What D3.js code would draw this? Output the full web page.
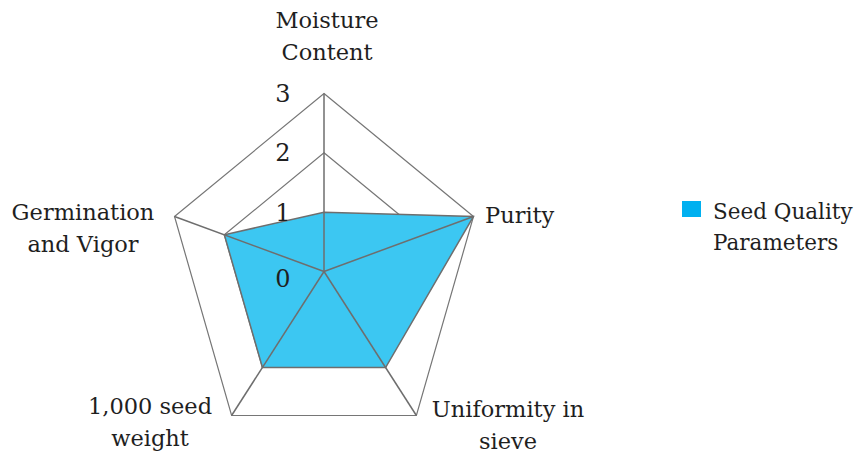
<!DOCTYPE html>
<html><head><meta charset="utf-8">
<script src="https://cdn.jsdelivr.net/npm/d3@7"></script>
<style>body{margin:0;background:#fff}svg{display:block}text{font-family:"DejaVu Serif",serif;fill:#1f1f1f}</style>
</head><body><svg id="c" width="857" height="454"></svg>
<script>
const categories = ["Moisture Content", "Purity", "Uniformity in sieve", "1,000 seed weight", "Germination and Vigor"];
const values = [1, 3, 2, 2, 2];
const tickValues = [0, 1, 2, 3];
const seriesName = "Seed Quality Parameters";

const svg = d3.select("#c");
const cx = 324, cy = 271.5, R = 178, sx = 0.883;
const r = d3.scaleLinear().domain([0, 3]).range([0, R]);
const ang = d3.scaleLinear().domain([0, categories.length]).range([0, 2 * Math.PI]);
const pt = (i, v) => [cx + sx * r(v) * Math.sin(ang(i)), cy - r(v) * Math.cos(ang(i))];
const lineGen = d3.line().curve(d3.curveLinearClosed);

// rings
svg.append("g").selectAll("path").data(tickValues.filter(t => t > 0)).join("path")
  .attr("d", t => lineGen(categories.map((c, i) => pt(i, t))))
  .attr("fill", "none").attr("stroke", "#767676").attr("stroke-width", 1.2);

// series fill
svg.append("path").attr("d", lineGen(values.map((v, i) => pt(i, v))))
  .attr("fill", "#3cc7f2").attr("stroke", "#6e6e6e").attr("stroke-width", 1.5);

// spokes
svg.append("g").selectAll("line").data(categories).join("line")
  .attr("x1", cx).attr("y1", cy)
  .attr("x2", (d, i) => pt(i, 3)[0]).attr("y2", (d, i) => pt(i, 3)[1])
  .attr("stroke", "#6e6e6e").attr("stroke-width", 1.5);

// tick labels
svg.append("g").selectAll("text").data(tickValues).join("text")
  .attr("x", cx - 41).attr("y", t => cy - r(t) + (t === 0 ? 7 : 0))
  .attr("dy", "0.35em").attr("text-anchor", "middle").attr("font-size", 24)
  .text(t => t);

// category labels
const labelLines = [["Moisture", "Content"], ["Purity"], ["Uniformity in", "sieve"], ["1,000 seed", "weight"], ["Germination", "and Vigor"]];
const labelPos = [
  {x: 327, y: 28, a: "middle"},
  {x: 485, y: 223, a: "start"},
  {x: 508, y: 417, a: "middle"},
  {x: 150, y: 414, a: "middle"},
  {x: 83, y: 220, a: "middle"}
];
const lg = svg.append("g");
categories.forEach((c, i) => {
  const t = lg.append("text").attr("x", labelPos[i].x).attr("y", labelPos[i].y)
    .attr("text-anchor", labelPos[i].a).attr("font-size", 22.5);
  labelLines[i].forEach((l, j) => t.append("tspan").attr("x", labelPos[i].x).attr("dy", j ? 32 : 0).text(l));
});

// legend
const leg = svg.append("g");
leg.append("rect").attr("x", 682).attr("y", 201).attr("width", 19).attr("height", 16).attr("fill", "#00b0f0");
const lt = leg.append("text").attr("x", 713).attr("y", 219).attr("font-size", 21.5);
["Seed Quality", "Parameters"].forEach((l, j) => lt.append("tspan").attr("x", 713).attr("dy", j ? 31 : 0).text(l));
</script></body></html>
